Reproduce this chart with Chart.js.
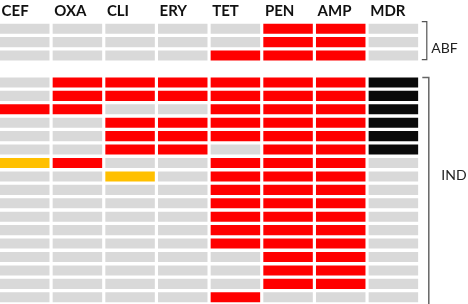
<!DOCTYPE html>
<html>
<head>
<meta charset="utf-8">
<script src="https://cdn.jsdelivr.net/npm/chart.js@4"></script>
<style>
  body { margin: 0; background: #fff; }
</style>
</head>
<body>
<canvas id="heat" width="468" height="304"></canvas>
<script>
// antibiotics (columns)
const drugs = ['CEF', 'OXA', 'CLI', 'ERY', 'TET', 'PEN', 'AMP', 'MDR'];
// 0 = susceptible, 1 = resistant, 2 = intermediate, 3 = multidrug resistant
const abfRows = [
    [0, 0, 0, 0, 0, 1, 1, 0],
    [0, 0, 0, 0, 0, 1, 1, 0],
    [0, 0, 0, 0, 1, 1, 1, 0]
];
const indRows = [
    [0, 1, 1, 1, 1, 1, 1, 3],
    [0, 1, 1, 1, 1, 1, 1, 3],
    [1, 1, 0, 0, 1, 1, 1, 3],
    [0, 0, 1, 1, 1, 1, 1, 3],
    [0, 0, 1, 1, 1, 1, 1, 3],
    [0, 0, 1, 1, 0, 1, 1, 3],
    [2, 1, 0, 0, 1, 1, 1, 0],
    [0, 0, 2, 0, 1, 1, 1, 0],
    [0, 0, 0, 0, 1, 1, 1, 0],
    [0, 0, 0, 0, 1, 1, 1, 0],
    [0, 0, 0, 0, 1, 1, 1, 0],
    [0, 0, 0, 0, 1, 1, 1, 0],
    [0, 0, 0, 0, 1, 1, 1, 0],
    [0, 0, 0, 0, 0, 1, 1, 0],
    [0, 0, 0, 0, 0, 1, 1, 0],
    [0, 0, 0, 0, 0, 1, 1, 0],
    [0, 0, 0, 0, 1, 0, 0, 0]
];
const groups = ['ABF', 'IND'];
const statusColors = ['#d9d9d9', '#ff0000', '#ffc000', '#0a0a0a'];

// one empty row between the two groups
const rows = abfRows.concat([null], indRows);
const rowLabels = rows.map((r, i) => 'r' + i);

const datasets = drugs.map((d, c) => {
    return {
        label: d,
        data: rows.map(r => r ? [c, c + 0.94] : null),
        backgroundColor: rows.map(r => r ? statusColors[r[c]] : 'rgba(0,0,0,0)'),
        borderWidth: 0,
        borderSkipped: false
    }
});

const bracketPlugin = {
    id: 'brackets',
    afterDraw(chart) {
        const ctx = chart.ctx;
        const y = chart.scales.y;
        const right = chart.chartArea.right;
        const half = 5;

        // ABF
        let top = y.getPixelForValue(0) - half - 2;
        let bottom = y.getPixelForValue(abfRows.length - 1) + half - 1;
        ctx.save();
        ctx.strokeStyle = '#555';
        ctx.lineWidth = 1.2;
        ctx.beginPath();
        ctx.moveTo(right + 0.5, top);
        ctx.lineTo(right + 5.5, top);
        ctx.lineTo(right + 5.5, bottom);
        ctx.lineTo(right + 0.5, bottom);
        ctx.stroke();

        // IND
        let first = abfRows.length + 1;
        top = y.getPixelForValue(first) - half;
        ctx.strokeStyle = '#666';
        ctx.lineWidth = 1.5;
        ctx.beginPath();
        ctx.moveTo(right + 1, top);
        ctx.lineTo(right + 7.5, top);
        ctx.lineTo(right + 7.5, chart.height + 2);
        ctx.stroke();

        ctx.fillStyle = '#222';
        ctx.font = '14px Lato';
        ctx.textAlign = 'left';
        ctx.textBaseline = 'middle';
        ctx.fillText(groups[0], right + 10, 48);
        ctx.fillText(groups[1], right + 20, 175);
        ctx.restore();
    }
};

new Chart(document.getElementById('heat').getContext('2d'), {
    type: 'bar',
    data: { labels: rowLabels, datasets: datasets },
    options: {
        indexAxis: 'y',
        responsive: false,
        animation: false,
        grouped: false,
        categoryPercentage: 1,
        barPercentage: 0.75,
        layout: { padding: { top: 0, right: 46.7, bottom: 0, left: 0 } },
        plugins: { legend: { display: false }, tooltip: { enabled: false } },
        scales: {
            x: {
                type: 'linear',
                position: 'top',
                min: 0,
                max: 8,
                grid: { display: false, drawTicks: false },
                border: { display: false },
                afterBuildTicks: (scale) => {
                    scale.ticks = drugs.map((d, i) => ({ value: i + 0.03 }));
                },
                afterFit: (scale) => { scale.height = 22; },
                ticks: {
                    align: 'start',
                    maxRotation: 0,
                    autoSkip: false,
                    padding: 1.5,
                    color: '#111',
                    font: { family: 'Lato', size: 15, weight: 'bold' },
                    callback: (v) => drugs[Math.round(v)]
                }
            },
            y: {
                display: false
            }
        }
    },
    plugins: [bracketPlugin]
});
</script>
</body>
</html>
